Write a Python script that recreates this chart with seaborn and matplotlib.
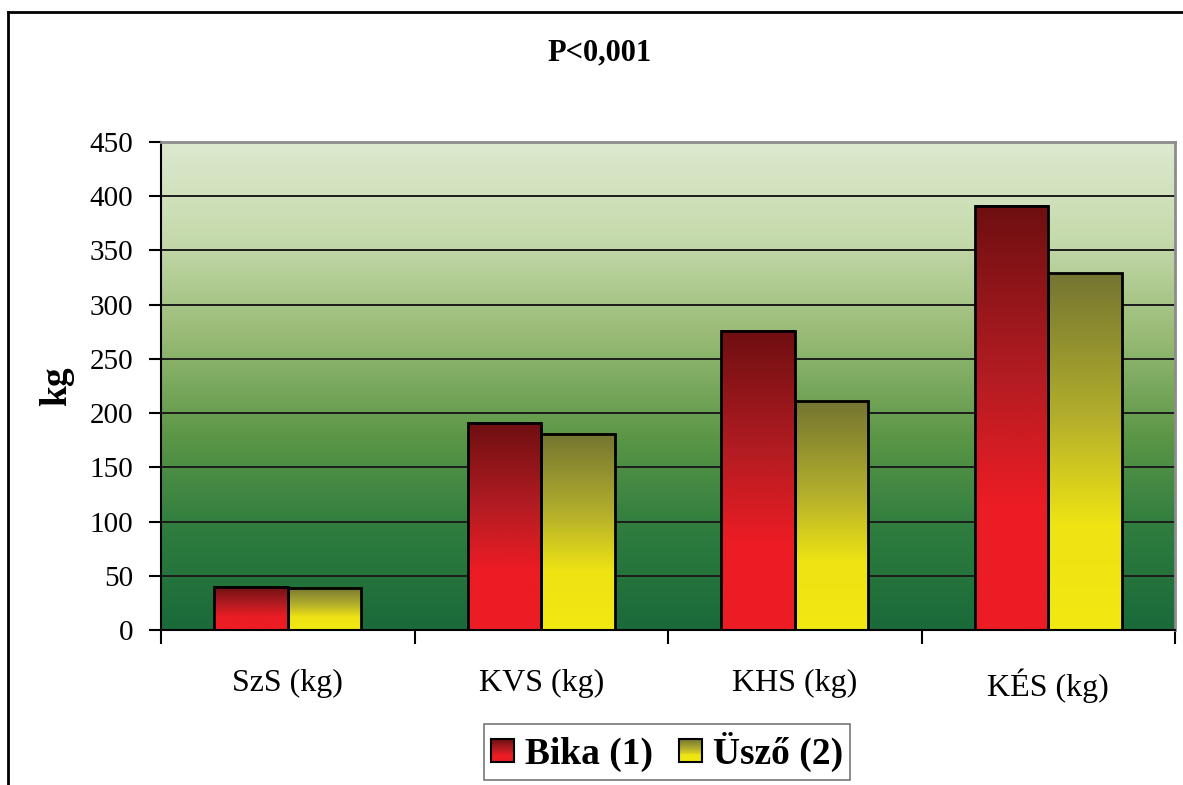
import numpy as np
import pandas as pd
import matplotlib
matplotlib.use("Agg")
import matplotlib.pyplot as plt
import seaborn as sns
from matplotlib.colors import LinearSegmentedColormap
from matplotlib.patches import Rectangle
from matplotlib.lines import Line2D
from matplotlib.legend_handler import HandlerBase

# ---- data ----
categories = ["SzS (kg)", "KVS (kg)", "KHS (kg)", "KÉS (kg)"]
bika = [40, 191, 276, 391]
uszo = [39, 181, 211, 329]
series_names = ["Bika (1)", "Üsző (2)"]
y_ticks = [0, 50, 100, 150, 200, 250, 300, 350, 400, 450]
title_text = "P<0,001"
y_label = "kg"

df = pd.DataFrame({
    "kategoria": categories * 2,
    "ertek": bika + uszo,
    "csoport": [series_names[0]] * len(categories) + [series_names[1]] * len(categories),
})

# ---- colour ramps (bottom -> top) ----
bg_cmap = LinearSegmentedColormap.from_list(
    "bg", [(0.0, "#1A6A3A"), (0.2, "#2E7C3E"), (0.4, "#5C9747"),
           (0.6, "#97BA74"), (0.8, "#C5DAAB"), (1.0, "#DDE9CF")])
bar_cmaps = [
    LinearSegmentedColormap.from_list(
        "bika", [(0.0, "#ED1C24"), (0.3, "#EB1C24"), (0.6, "#B21C22"), (1.0, "#6E0F11")]),
    LinearSegmentedColormap.from_list(
        "uszo", [(0.0, "#F2E811"), (0.3, "#EEE314"), (0.6, "#B2AE2C"), (1.0, "#747532")]),
]

plt.rcParams["font.family"] = ["Liberation Serif", "DejaVu Serif"]

W, H = 1183, 785
fig = plt.figure(figsize=(W / 100, H / 100), dpi=100)
ax = fig.add_axes([161 / W, 1 - 630 / H, (1175 - 161) / W, (630 - 142) / H])

sns.barplot(data=df, x="kategoria", y="ertek", hue="csoport", order=categories,
            hue_order=series_names, width=0.58, dodge=True, ax=ax, legend=False,
            errorbar=None, saturation=1)

ax.set_xlim(-0.5, len(categories) - 0.5)
ax.set_ylim(0, 450)

# plot-area background gradient
grad = np.linspace(0, 1, 256).reshape(-1, 1)
ax.imshow(grad, cmap=bg_cmap, origin="lower", aspect="auto",
          extent=(-0.5, len(categories) - 0.5, 0, 450), zorder=0)

# gradient fill for each bar, clipped to the bar rectangle
bars = [p for p in ax.patches if isinstance(p, Rectangle)]
n = len(categories)
for i, p in enumerate(bars):
    cmap = bar_cmaps[0] if i < n else bar_cmaps[1]
    x0, y0 = p.get_x(), p.get_y()
    w, h = p.get_width(), p.get_height()
    ax.imshow(grad, cmap=cmap, origin="lower", aspect="auto",
              extent=(x0, x0 + w, y0, y0 + h), zorder=2)
    p.set_facecolor("none")
    p.set_edgecolor("black")
    p.set_linewidth(2.0)
    p.set_zorder(3)

ax.set_xlim(-0.5, len(categories) - 0.5)
ax.set_ylim(0, 450)

# gridlines
ax.set_yticks(y_ticks)
ax.yaxis.grid(True, color="#1C1C1C", linewidth=1.4, zorder=1)
ax.xaxis.grid(False)
for gl in ax.get_ygridlines():
    gl.set_zorder(1)

# spines
for s in ["left", "bottom"]:
    ax.spines[s].set_color("black")
    ax.spines[s].set_linewidth(1.5)
for s in ["top", "right"]:
    ax.spines[s].set_color("#8C8C8C")
    ax.spines[s].set_linewidth(2.0)
for s in ax.spines.values():
    s.set_zorder(4)

# ticks
ax.set_xticks(range(len(categories)))
ax.set_xticklabels(categories)
ax.set_xticks(np.arange(-0.5, len(categories)), minor=True)
ax.tick_params(axis="x", which="major", length=0, pad=28, labelsize=23)
ax.tick_params(axis="x", which="minor", length=10, width=1.5, direction="out", color="black")
ax.tick_params(axis="y", length=9, width=1.5, direction="out", pad=11, labelsize=21)

ax.set_xlabel("")
ax.set_ylabel(y_label, fontsize=27, fontweight="bold")
ax.yaxis.set_label_coords((74 - 161) / 1014, 0.5)

fig.text(600 / W, 1 - 53 / H, title_text, ha="center", va="center",
         fontsize=22, fontweight="bold")


# legend with gradient swatches
class GradientHandler(HandlerBase):
    def __init__(self, cmap):
        super().__init__()
        self.cmap = cmap

    def create_artists(self, legend, orig_handle, xdescent, ydescent, width, height, fontsize, trans):
        size = min(width, height) * 1.0
        x0 = -xdescent + (width - size) / 2
        y0 = -ydescent + (height - size) / 2
        arts = []
        steps = 24
        for k in range(steps):
            f = (k + 0.5) / steps
            r = Rectangle((x0, y0 + size * k / steps), size, size / steps + 0.2,
                          facecolor=self.cmap(f), edgecolor="none", transform=trans)
            arts.append(r)
        arts.append(Rectangle((x0, y0), size, size, facecolor="none",
                              edgecolor="black", linewidth=1.5, transform=trans))
        return arts


h1 = Rectangle((0, 0), 1, 1)
h2 = Rectangle((0, 0), 1, 1, linewidth=0)
leg = ax.legend([h1, h2], series_names, loc="center",
                bbox_to_anchor=(667 / W, 1 - 752 / H), bbox_transform=fig.transFigure,
                ncol=2, frameon=True, fancybox=False, edgecolor="#555555",
                prop={"family": ["Liberation Serif"], "weight": "bold", "size": 27},
                handlelength=0.6, handleheight=0.6, handletextpad=0.3,
                columnspacing=0.7, borderpad=0.2, borderaxespad=0,
                handler_map={h1: GradientHandler(bar_cmaps[0]), h2: GradientHandler(bar_cmaps[1])})
leg.get_frame().set_linewidth(1.2)

# outer chart frame (left and top edges)
fig.add_artist(Line2D([8 / W, 8 / W], [0, 1 - 12 / H], color="black", linewidth=2,
                      transform=fig.transFigure))
fig.add_artist(Line2D([8 / W, 1.0], [1 - 12 / H, 1 - 12 / H], color="black", linewidth=2,
                      transform=fig.transFigure))

fig.savefig("out.png", dpi=100, facecolor="white")
